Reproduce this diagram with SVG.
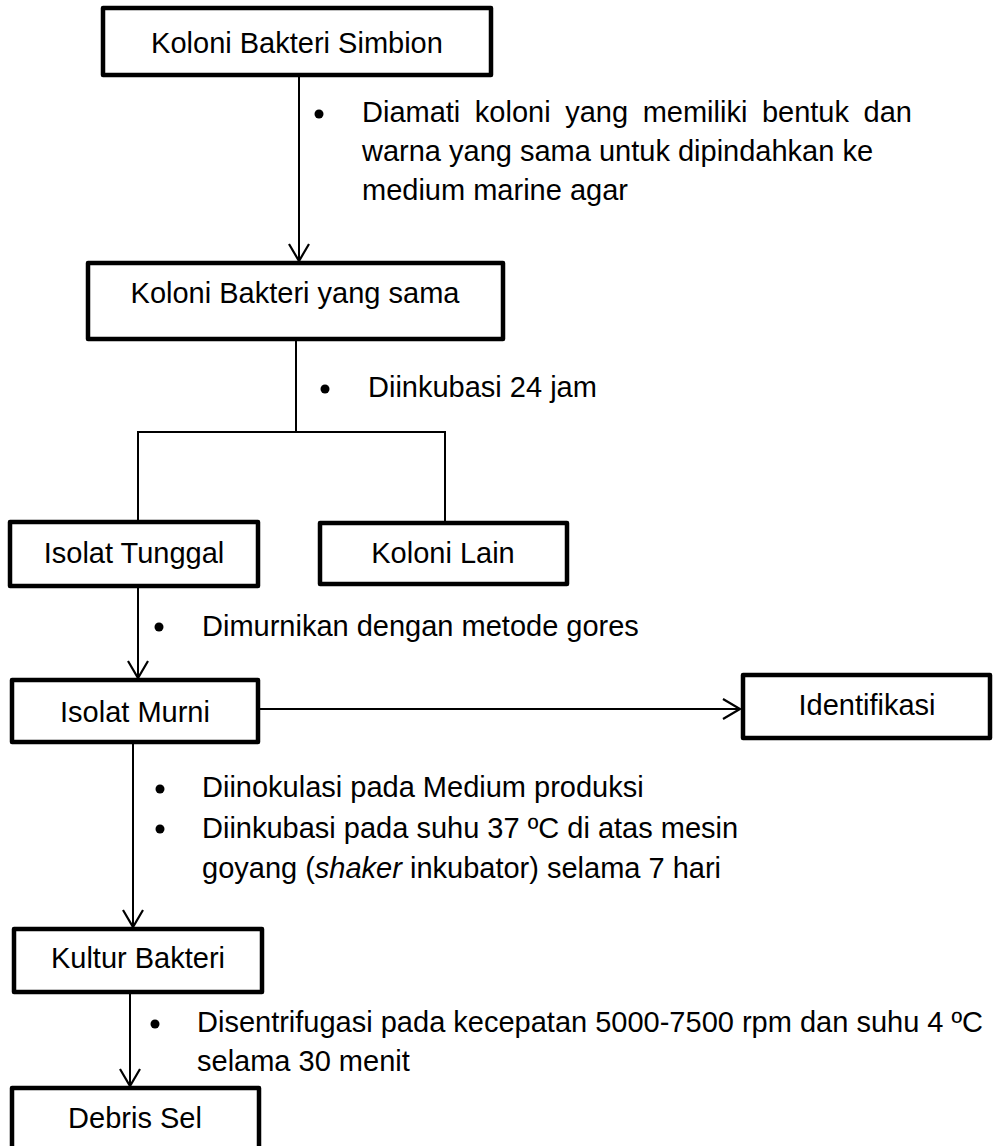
<svg xmlns="http://www.w3.org/2000/svg" width="1000" height="1146" viewBox="0 0 1000 1146">
  <style>
    .box { fill: #ffffff; stroke: #000000; stroke-width: 4.5; stroke-linejoin: round; }
    .lbl { font-family: "Liberation Sans", Arial, sans-serif; font-size: 29px; fill: #000000; }
    .mid { text-anchor: middle; }
    .wire { fill: none; stroke: #000000; stroke-width: 2; }
    .dot { fill: #000000; }
  </style>
  <defs>
    <marker id="open-arrow" markerUnits="userSpaceOnUse" markerWidth="24" markerHeight="24" refX="0" refY="0" orient="auto" overflow="visible">
      <path d="M-17,-10 L0,0 L-17,10" fill="none" stroke="#000000" stroke-width="2.2"/>
    </marker>
  </defs>

  <rect width="1000" height="1146" fill="#ffffff"/>

  <!-- connectors -->
  <g id="connectors">
    <line class="wire" x1="299" y1="75" x2="299" y2="261" marker-end="url(#open-arrow)"/>
    <polyline class="wire" points="296,339 296,432"/>
    <polyline class="wire" points="138,523 138,432 445,432 445,523"/>
    <line class="wire" x1="138" y1="586" x2="138" y2="678" marker-end="url(#open-arrow)"/>
    <line class="wire" x1="258" y1="709" x2="740" y2="709" marker-end="url(#open-arrow)"/>
    <line class="wire" x1="133" y1="742" x2="133" y2="927" marker-end="url(#open-arrow)"/>
    <line class="wire" x1="130" y1="992" x2="130" y2="1086" marker-end="url(#open-arrow)"/>
  </g>

  <!-- step notes -->
  <g id="notes">
    <circle class="dot" cx="319" cy="114" r="4.5"/>
    <text class="lbl" x="362" y="122" word-spacing="6.5">Diamati koloni yang memiliki bentuk dan</text>
    <text class="lbl" x="362" y="161">warna yang sama untuk dipindahkan ke</text>
    <text class="lbl" x="362" y="200">medium marine agar</text>

    <circle class="dot" cx="325" cy="389" r="4.5"/>
    <text class="lbl" x="368" y="397">Diinkubasi 24 jam</text>

    <circle class="dot" cx="159" cy="627" r="4.5"/>
    <text class="lbl" x="202" y="636">Dimurnikan dengan metode gores</text>

    <circle class="dot" cx="160" cy="789" r="4.5"/>
    <text class="lbl" x="202" y="797">Diinokulasi pada Medium produksi</text>
    <circle class="dot" cx="160" cy="829" r="4.5"/>
    <text class="lbl" x="202" y="838">Diinkubasi pada suhu 37 ºC di atas mesin</text>
    <text class="lbl" x="202" y="878">goyang (<tspan font-style="italic">shaker</tspan> inkubator) selama 7 hari</text>

    <circle class="dot" cx="155" cy="1024" r="4.5"/>
    <text class="lbl" x="197" y="1032">Disentrifugasi pada kecepatan 5000-7500 rpm dan suhu 4 ºC</text>
    <text class="lbl" x="197" y="1071">selama 30 menit</text>
  </g>

  <!-- nodes -->
  <g id="node-simbion">
    <rect class="box" x="103" y="8" width="388" height="67"/>
    <text class="lbl mid" x="297" y="53">Koloni Bakteri Simbion</text>
  </g>
  <g id="node-sama">
    <rect class="box" x="88" y="263" width="415" height="76"/>
    <text class="lbl mid" x="295" y="303">Koloni Bakteri yang sama</text>
  </g>
  <g id="node-tunggal">
    <rect class="box" x="10" y="522" width="248" height="64"/>
    <text class="lbl mid" x="134" y="563">Isolat Tunggal</text>
  </g>
  <g id="node-lain">
    <rect class="box" x="320" y="523" width="247" height="61"/>
    <text class="lbl mid" x="443" y="563">Koloni Lain</text>
  </g>
  <g id="node-murni">
    <rect class="box" x="12" y="680" width="246" height="62"/>
    <text class="lbl mid" x="135" y="722">Isolat Murni</text>
  </g>
  <g id="node-identifikasi">
    <rect class="box" x="743" y="675" width="247" height="63"/>
    <text class="lbl mid" x="867" y="715">Identifikasi</text>
  </g>
  <g id="node-kultur">
    <rect class="box" x="14" y="929" width="248" height="63"/>
    <text class="lbl mid" x="138" y="968">Kultur Bakteri</text>
  </g>
  <g id="node-debris">
    <rect class="box" x="12" y="1088" width="247" height="70"/>
    <text class="lbl mid" x="135" y="1128">Debris Sel</text>
  </g>
</svg>
